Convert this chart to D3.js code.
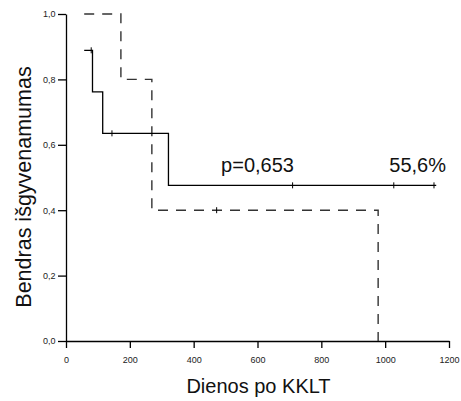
<!DOCTYPE html>
<html>
<head>
<meta charset="utf-8">
<script src="https://cdn.jsdelivr.net/npm/d3@7"></script>
<style>
  body { margin: 0; background: #fff; }
  svg { font-family: "Liberation Sans", Arial, sans-serif; }
</style>
</head>
<body>
<div id="chart"></div>
<script>
// solid group: step times / survival, censored times
const solidTime = [57, 83, 115, 321, 1160];
const solidSurv = [0.889, 0.762, 0.635, 0.476, 0.476];
const solidCensor = [79, 144, 710, 1027, 1153];

// dashed group
const dashTime = [57, 172, 269, 978];
const dashSurv = [1.0, 0.8, 0.4, 0.0];
const dashCensor = [472];

const xTicks = [0, 200, 400, 600, 800, 1000, 1200];
const yTicks = [0, 0.2, 0.4, 0.6, 0.8, 1.0];

const notes = [
  { t: 486, s: 0.518, label: "p=0,653" },
  { t: 1013, s: 0.518, label: "55,6%" }
];

const width = 461;
const height = 401;
const margin = { top: 14, right: 12, bottom: 60, left: 66 };

const svg = d3.select("#chart")
  .append("svg")
  .attr("width", width)
  .attr("height", height);

const x = d3.scaleLinear()
  .domain([0, 1200])
  .range([margin.left, width - margin.right]);

const y = d3.scaleLinear()
  .domain([0, 1])
  .range([height - margin.bottom, margin.top]);

const comma = d => d3.format(".1f")(d).replace(".", ",");

// axes
const xAxis = svg.append("g")
  .attr("transform", `translate(0,${y(0)})`)
  .call(d3.axisBottom(x).tickValues(xTicks).tickFormat(d3.format("d"))
    .tickSize(7).tickSizeOuter(0).tickPadding(8.5));

const yAxis = svg.append("g")
  .attr("transform", `translate(${x(0)},0)`)
  .call(d3.axisLeft(y).tickValues(yTicks).tickFormat(comma)
    .tickSize(8).tickSizeOuter(0).tickPadding(2.5));

[xAxis, yAxis].forEach(g => {
  g.selectAll("path, line").attr("stroke", "#000").attr("stroke-width", 1.3);
  g.selectAll("text").attr("font-size", "9px").attr("fill", "#222");
});

// survival curves
const line = d3.line()
  .x(d => x(d[0]))
  .y(d => y(d[1]))
  .curve(d3.curveStepAfter);

function survAt(times, surv, t) {
  const i = d3.bisectRight(times, t) - 1;
  return surv[Math.max(0, i)];
}

svg.append("path")
  .datum(d3.zip(dashTime, dashSurv))
  .attr("fill", "none")
  .attr("stroke", "#333")
  .attr("stroke-width", 1.4)
  .attr("stroke-dasharray", "10,8")
  .attr("d", line);

svg.append("path")
  .datum(d3.zip(solidTime, solidSurv))
  .attr("fill", "none")
  .attr("stroke", "#000")
  .attr("stroke-width", 1.3)
  .attr("d", line);

// censor marks
svg.append("g")
  .selectAll("line")
  .data(solidCensor.map(t => [t, survAt(solidTime, solidSurv, t)])
    .concat(dashCensor.map(t => [t, survAt(dashTime, dashSurv, t)])))
  .join("line")
  .attr("x1", d => x(d[0]))
  .attr("x2", d => x(d[0]))
  .attr("y1", d => y(d[1]) - 3)
  .attr("y2", d => y(d[1]) + 3)
  .attr("stroke", "#000")
  .attr("stroke-width", 1);

// annotations
svg.append("g")
  .selectAll("text")
  .data(notes)
  .join("text")
  .attr("x", d => x(d.t))
  .attr("y", d => y(d.s))
  .attr("font-size", "20px")
  .attr("fill", "#111")
  .text(d => d.label);

// axis titles
svg.append("text")
  .attr("x", (x(0) + x(1200)) / 2 + 1)
  .attr("y", 393)
  .attr("text-anchor", "middle")
  .attr("font-size", "20px")
  .attr("fill", "#111")
  .text("Dienos po KKLT");

svg.append("text")
  .attr("transform", `translate(31,187) rotate(-90)`)
  .attr("text-anchor", "middle")
  .attr("font-size", "21.5px")
  .attr("fill", "#111")
  .text("Bendras išgyvenamumas");
</script>
</body>
</html>
